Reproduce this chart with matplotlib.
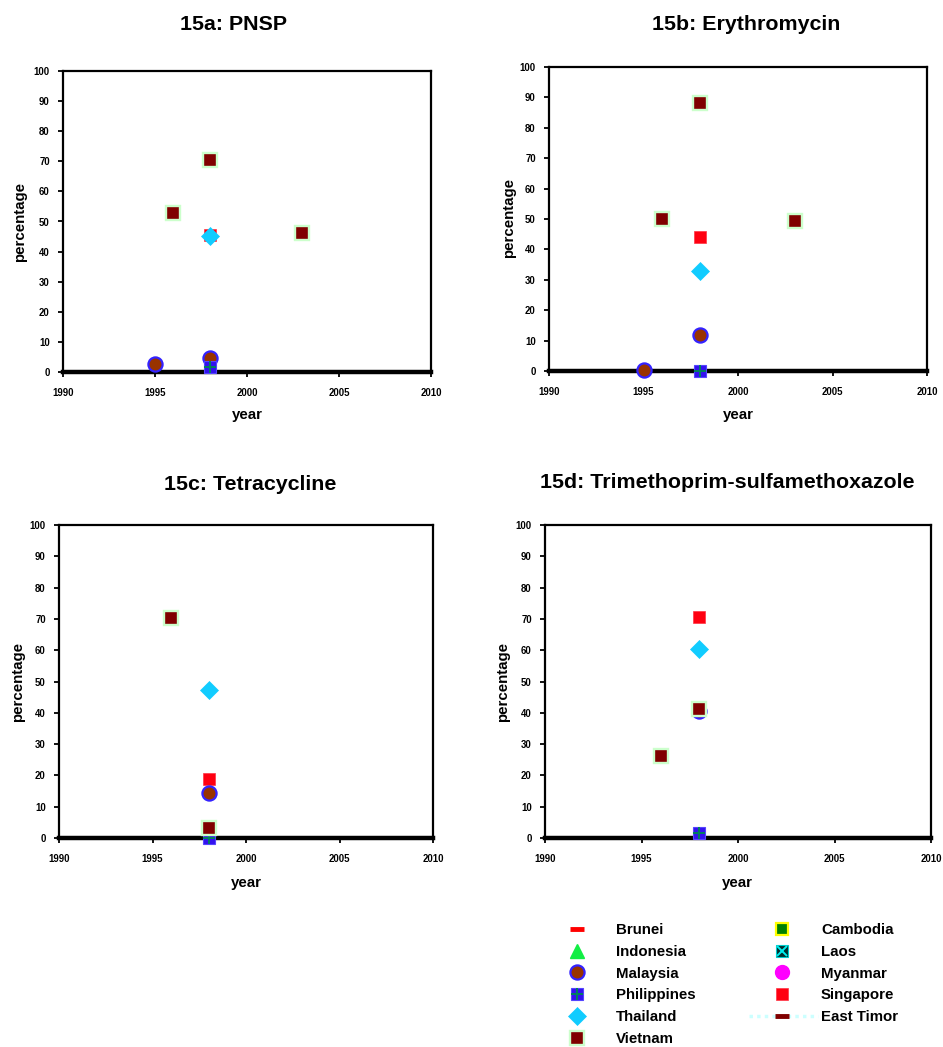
import matplotlib
matplotlib.use("Agg")
import matplotlib.pyplot as plt
from matplotlib.lines import Line2D
from matplotlib.legend_handler import HandlerLine2D

plt.rcParams['font.family'] = ['Liberation Sans', 'DejaVu Sans']
plt.rcParams['font.weight'] = 'bold'

# ---------------- data ----------------
countries = ["Brunei", "Indonesia", "Malaysia", "Philippines", "Thailand", "Vietnam",
             "Cambodia", "Laos", "Myanmar", "Singapore", "East Timor"]

panel_titles = ["15a: PNSP", "15b: Erythromycin", "15c: Tetracycline",
                "15d: Trimethoprim-sulfamethoxazole"]

# (years, percentages) per country, per panel
pnsp = {
    "Singapore":   ([1998], [45.6]),
    "Malaysia":    ([1995, 1998], [2.7, 4.5]),
    "Philippines": ([1998], [1.5]),
    "Thailand":    ([1998], [45.2]),
    "Vietnam":     ([1996, 1998, 2003], [52.7, 70.3, 46.3]),
}
erythromycin = {
    "Singapore":   ([1998], [44.1]),
    "Malaysia":    ([1995, 1998], [0.2, 11.8]),
    "Philippines": ([1998], [0.0]),
    "Thailand":    ([1998], [32.8]),
    "Vietnam":     ([1996, 1998, 2003], [50.0, 88.0, 49.3]),
}
tetracycline = {
    "Singapore":   ([1998], [18.8]),
    "Malaysia":    ([1998], [14.5]),
    "Philippines": ([1998], [0.0]),
    "Thailand":    ([1998], [47.3]),
    "Vietnam":     ([1996, 1998], [70.2, 3.1]),
}
tmp_smx = {
    "Singapore":   ([1998], [70.7]),
    "Malaysia":    ([1998], [40.7]),
    "Philippines": ([1998], [1.7]),
    "Thailand":    ([1998], [60.4]),
    "Vietnam":     ([1996, 1998], [26.3, 41.3]),
}
panels_data = [pnsp, erythromycin, tetracycline, tmp_smx]

x_ticks = [1990, 1995, 2000, 2005, 2010]
y_ticks = [0, 10, 20, 30, 40, 50, 60, 70, 80, 90, 100]

# ---------------- styles ----------------
styles = {
    "Brunei":      dict(marker='_', color='#FF0000', ms=10, mew=3.5),
    "Indonesia":   dict(marker='^', color='#11EE44', mfc='#11EE44', mec='#11EE44', ms=10),
    "Malaysia":    dict(marker='o', mfc='#993300', mec='#3322FF', ms=10.2, mew=1.6),
    "Philippines": dict(marker='s', mfc='#3311EE', mec='#5544FF', ms=9.2, mew=0.8),
    "Thailand":    dict(marker='D', mfc='#11CCFF', mec='#11CCFF', ms=9.0, mew=0.5),
    "Vietnam":     dict(marker='s', mfc='#800000', mec='#CCFFCC', ms=9.4, mew=1.7),
    "Cambodia":    dict(marker='s', mfc='#008000', mec='#FFFF00', ms=8, mew=1.6),
    "Laos":        dict(marker='s', mfc='#003030', mec='#00CCCC', ms=9, mew=0.8),
    "Myanmar":     dict(marker='o', mfc='#FF00FF', mec='#FF00FF', ms=10),
    "Singapore":   dict(marker='s', mfc='#FF0011', mec='#FF3344', ms=8.8, mew=0.5),
    "East Timor":  dict(marker='_', color='#800000', ms=10, mew=3.5),
}
zorders = {"Singapore": 4, "Malaysia": 5, "Philippines": 6, "Thailand": 7, "Vietnam": 8}

W, H = 943, 1047
fig = plt.figure(figsize=(W / 100, H / 100), dpi=100)


def rect(l, t, r, b):
    return [l / W, 1 - b / H, (r - l) / W, (b - t) / H]


axes_px = [(63, 71, 431, 372), (549, 67, 927, 371), (59, 525, 433, 838), (545, 525, 931, 838)]
title_px = [(234, 25), (746, 25), (250, 485), (727, 483)]
ylab_px = [(20, 222), (509, 218), (18, 682), (503, 682)]
xlab_px = [(247, 415), (738, 415), (246, 883), (737, 883)]

for i, data in enumerate(panels_data):
    ax = fig.add_axes(rect(*axes_px[i]))
    ax.set_xlim(1990, 2010)
    ax.set_ylim(0, 100)
    ax.set_xticks(x_ticks)
    ax.set_yticks(y_ticks)
    ax.tick_params(axis='both', direction='out', length=3.5, width=1.3, labelsize=6.9,
                   colors='black')
    ax.tick_params(axis='x', pad=8)
    ax.tick_params(axis='y', pad=6)
    for lab in ax.get_xticklabels() + ax.get_yticklabels():
        lab.set_fontweight('bold')
    for s in ['top', 'right', 'left']:
        ax.spines[s].set_linewidth(1.6)
    ax.spines['bottom'].set_linewidth(3.2)

    for name, (xs, ys) in data.items():
        st = styles[name]
        ax.plot(xs, ys, linestyle='none', clip_on=False, zorder=zorders[name], **st)
        if name == "Philippines":
            ax.plot(xs, ys, linestyle='none', marker='+', color='#008060', ms=8, mew=1.4,
                    clip_on=False, zorder=zorders[name] + 0.1)

    fig.text(title_px[i][0] / W, 1 - title_px[i][1] / H, panel_titles[i],
             ha='center', va='center', fontsize=15.4, fontweight='bold')
    fig.text(ylab_px[i][0] / W, 1 - ylab_px[i][1] / H, "percentage", rotation=90,
             ha='center', va='center', fontsize=10.8, fontweight='bold')
    fig.text(xlab_px[i][0] / W, 1 - xlab_px[i][1] / H, "year",
             ha='center', va='center', fontsize=10.8, fontweight='bold')


# ---------------- legend ----------------
class WideLineHandler(HandlerLine2D):
    def create_artists(self, legend, orig_handle, xdescent, ydescent, width, height,
                       fontsize, trans):
        y = height / 2 - ydescent
        ln = Line2D([-width * 0.6, width * 1.7], [y, y], color='#CCFFFF',
                    linestyle=(0, (1, 1.2)), linewidth=2.5)
        ln.set_transform(trans)
        return [ln]


def handle_for(name):
    st = styles[name]
    h = Line2D([], [], linestyle='none', **st)
    if name == "Philippines":
        return (h, Line2D([], [], linestyle='none', marker='+', color='#008060', ms=8, mew=1.4))
    if name == "Laos":
        return (h, Line2D([], [], linestyle='none', marker='x', color='#00EEEE', ms=7, mew=1.4))
    if name == "East Timor":
        dotted = Line2D([], [], color='#CCFFFF')
        dotted._wide = True
        return (dotted, h)
    return h


left_names = countries[:6]
right_names = countries[6:]

common = dict(frameon=False, handlelength=2.0, handletextpad=1.6,
              labelspacing=0.52, borderpad=0, borderaxespad=0, loc='upper left',
              prop={'weight': 'bold', 'size': 10.8})

hmap = {}
right_handles = []
for n in right_names:
    h = handle_for(n)
    right_handles.append(h)
    if isinstance(h, tuple) and getattr(h[0], '_wide', False):
        hmap[h[0]] = WideLineHandler()

leg1 = fig.legend([handle_for(n) for n in left_names], left_names,
                  bbox_to_anchor=(562 / W, 1 - 923 / H), **common)
leg2 = fig.legend(right_handles, right_names, handler_map=hmap,
                  bbox_to_anchor=(767 / W, 1 - 923 / H), **common)

fig.savefig("out.png", dpi=100)
